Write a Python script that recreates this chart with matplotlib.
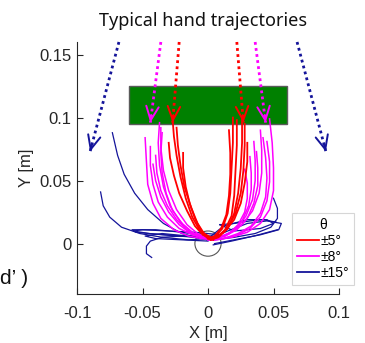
import matplotlib
matplotlib.use("Agg")
import matplotlib.pyplot as plt
from matplotlib.patches import Rectangle, Circle
from matplotlib.lines import Line2D
import numpy as np

plt.rcParams['font.family'] = ['Liberation Sans', 'DejaVu Sans']

# ---------------- data ----------------
title = "Typical hand trajectories"
x_ticks = [-0.1, -0.05, 0, 0.05, 0.1]
x_ticklabels = ["-0.1", "-0.05", "0", "0.05", "0.1"]
y_ticks = [0, 0.05, 0.1, 0.15]
y_ticklabels = ["0", "0.05", "0.1", "0.15"]
legend_labels = ["\u00b15\u00b0", "\u00b18\u00b0", "\u00b115\u00b0"]
legend_title = "\u03b8"

# target bar (x0, y0, width, height)
target_bar = [-0.06, 0.095, 0.12, 0.03]
start_radius = 0.01

# direction arrows
arrow_x0 = [-0.068, -0.036, -0.022, 0.022, 0.036, 0.068]
arrow_y0 = [0.16, 0.16, 0.16, 0.16, 0.16, 0.16]
arrow_x1 = [-0.090, -0.044, -0.027, 0.027, 0.044, 0.090]
arrow_y1 = [0.073, 0.096, 0.096, 0.096, 0.096, 0.073]
arrow_group = [2, 1, 0, 0, 1, 2]

# trajectories (+-5 deg)
red_x = [
    [-0.027, -0.026, -0.024, -0.021, -0.017, -0.012, -0.006, 0.000, 0.004],
    [-0.030, -0.029, -0.026, -0.022, -0.016, -0.010, -0.004, 0.002],
    [-0.019, -0.019, -0.017, -0.014, -0.010, -0.005, 0.000, 0.004],
    [-0.024, -0.023, -0.021, -0.018, -0.013, -0.008, -0.003, 0.002],
    [0.019, 0.019, 0.018, 0.017, 0.015, 0.011, 0.006, 0.001],
    [0.022, 0.022, 0.021, 0.020, 0.018, 0.013, 0.007, 0.002],
    [0.026, 0.026, 0.025, 0.023, 0.020, 0.015, 0.008, 0.002],
    [0.028, 0.028, 0.027, 0.025, 0.021, 0.015, 0.008, 0.003],
    [0.016, 0.017, 0.017, 0.016, 0.014, 0.010, 0.005, 0.000],
    [0.030, 0.030, 0.028, 0.025, 0.020, 0.013, 0.006, 0.001],
]
red_y = [
    [0.098, 0.085, 0.070, 0.053, 0.036, 0.021, 0.010, 0.004, 0.003],
    [0.080, 0.068, 0.054, 0.040, 0.026, 0.014, 0.007, 0.004],
    [0.072, 0.060, 0.045, 0.032, 0.020, 0.010, 0.005, 0.004],
    [0.092, 0.078, 0.062, 0.045, 0.029, 0.016, 0.008, 0.005],
    [0.100, 0.080, 0.060, 0.040, 0.024, 0.012, 0.006, 0.004],
    [0.098, 0.078, 0.058, 0.038, 0.022, 0.011, 0.005, 0.003],
    [0.100, 0.080, 0.060, 0.040, 0.024, 0.012, 0.005, 0.003],
    [0.095, 0.078, 0.058, 0.040, 0.024, 0.012, 0.006, 0.004],
    [0.090, 0.072, 0.055, 0.038, 0.023, 0.012, 0.006, 0.004],
    [0.080, 0.065, 0.048, 0.032, 0.019, 0.010, 0.005, 0.004],
]

# trajectories (+-8 deg)
mag_x = [
    [-0.048, -0.047, -0.046, -0.042, -0.036, -0.026, -0.015, -0.005, 0.004],
    [-0.037, -0.038, -0.037, -0.034, -0.029, -0.021, -0.012, -0.004, 0.003],
    [-0.035, -0.036, -0.035, -0.032, -0.027, -0.019, -0.011, -0.003, 0.004],
    [-0.042, -0.040, -0.036, -0.030, -0.022, -0.013, -0.005, 0.003],
    [-0.044, -0.044, -0.042, -0.038, -0.031, -0.022, -0.012, -0.003, 0.004],
    [-0.036, -0.036, -0.034, -0.030, -0.024, -0.016, -0.008, 0.000, 0.005],
    [-0.040, -0.039, -0.036, -0.031, -0.024, -0.016, -0.008, 0.001],
    [0.047, 0.049, 0.050, 0.050, 0.047, 0.040, 0.030, 0.018, 0.007, 0.000],
    [0.042, 0.044, 0.045, 0.044, 0.040, 0.033, 0.023, 0.012, 0.003],
    [0.045, 0.047, 0.047, 0.045, 0.040, 0.032, 0.021, 0.010, 0.002],
    [0.035, 0.036, 0.036, 0.034, 0.029, 0.022, 0.013, 0.005, 0.000],
    [0.037, 0.038, 0.038, 0.035, 0.030, 0.022, 0.013, 0.005, 0.000],
    [0.028, 0.030, 0.030, 0.028, 0.023, 0.016, 0.008, 0.001],
    [0.032, 0.033, 0.033, 0.031, 0.026, 0.019, 0.011, 0.003],
    [0.040, 0.041, 0.041, 0.039, 0.034, 0.026, 0.016, 0.006, 0.000],
]
mag_y = [
    [0.084, 0.065, 0.047, 0.032, 0.020, 0.011, 0.006, 0.004, 0.003],
    [0.096, 0.080, 0.062, 0.045, 0.030, 0.017, 0.009, 0.005, 0.004],
    [0.088, 0.072, 0.056, 0.040, 0.026, 0.015, 0.008, 0.005, 0.004],
    [0.063, 0.050, 0.037, 0.025, 0.015, 0.008, 0.005, 0.004],
    [0.077, 0.062, 0.047, 0.033, 0.021, 0.012, 0.007, 0.004, 0.003],
    [0.092, 0.076, 0.058, 0.042, 0.027, 0.015, 0.008, 0.004, 0.003],
    [0.070, 0.056, 0.042, 0.030, 0.019, 0.011, 0.006, 0.004],
    [0.099, 0.080, 0.060, 0.042, 0.027, 0.016, 0.009, 0.005, 0.003, 0.003],
    [0.084, 0.068, 0.052, 0.037, 0.024, 0.014, 0.008, 0.004, 0.003],
    [0.081, 0.065, 0.049, 0.034, 0.021, 0.012, 0.006, 0.004, 0.003],
    [0.081, 0.066, 0.050, 0.035, 0.022, 0.012, 0.006, 0.004, 0.003],
    [0.073, 0.060, 0.046, 0.032, 0.020, 0.011, 0.006, 0.004, 0.004],
    [0.059, 0.048, 0.036, 0.025, 0.015, 0.008, 0.005, 0.004],
    [0.069, 0.056, 0.043, 0.030, 0.018, 0.010, 0.006, 0.004],
    [0.090, 0.074, 0.056, 0.040, 0.026, 0.015, 0.008, 0.004, 0.003],
]

# trajectories (+-15 deg)
blue_x = [
    [-0.073, -0.069, -0.064, -0.056, -0.046, -0.034, -0.020, -0.005, 0.005],
    [-0.082, -0.080, -0.075, -0.066, -0.052, -0.035, -0.015, 0.000],
    [-0.043, -0.047, -0.047, -0.044, -0.035, -0.020, -0.005, 0.005],
    [0.050, 0.053, 0.053, 0.048, 0.036, 0.020, 0.005],
    [0.000, 0.015, 0.030, 0.045, 0.056, 0.054, 0.040, 0.020, 0.005],
    [0.000, 0.012, 0.030, 0.045, 0.050, 0.040, 0.020, 0.009],
    [0.004, 0.018, 0.035, 0.053],
    [0.005, -0.020, -0.040, -0.058, -0.055, -0.035, -0.010, 0.005],
    [0.000, -0.015, -0.035, -0.048, -0.040, -0.020, 0.000],
    [0.009, -0.010, -0.030, -0.050, -0.057, -0.045, -0.020, 0.004],
    [0.009, 0.020, 0.032, 0.042, 0.052],
]
blue_y = [
    [0.088, 0.070, 0.055, 0.040, 0.027, 0.016, 0.008, 0.004, 0.004],
    [0.041, 0.030, 0.021, 0.013, 0.008, 0.005, 0.003, 0.004],
    [-0.011, -0.008, -0.002, 0.002, 0.005, 0.006, 0.005, 0.004],
    [0.036, 0.028, 0.020, 0.013, 0.008, 0.005, 0.003],
    [0.003, 0.010, 0.016, 0.018, 0.016, 0.011, 0.007, 0.003, 0.000],
    [0.004, 0.014, 0.019, 0.019, 0.016, 0.012, 0.010, 0.015],
    [-0.001, 0.002, 0.006, 0.011],
    [0.005, 0.009, 0.011, 0.011, 0.009, 0.007, 0.005, 0.004],
    [0.003, 0.006, 0.008, 0.006, 0.004, 0.003, 0.002],
    [0.007, 0.009, 0.010, 0.011, 0.010, 0.008, 0.006, 0.006],
    [0.015, 0.016, 0.018, 0.019, 0.017],
]

colors = ["#ff0000", "#ff00ff", "#14149a"]
# --------------------------------------

fig = plt.figure(figsize=(3.65, 3.43), dpi=100)
ax = fig.add_axes([77 / 365, 1 - 294 / 343, 262 / 365, 252 / 343])

ax.add_patch(Rectangle((target_bar[0], target_bar[1]), target_bar[2], target_bar[3],
                       facecolor="#008000", edgecolor="#5a5a5a", lw=1.0, zorder=1))
ax.add_patch(Circle((0, 0), start_radius, facecolor="none", edgecolor="#555555",
                    lw=0.8, zorder=2))

for xs, ys in zip(blue_x, blue_y):
    ax.plot(xs, ys, color=colors[2], lw=0.9, zorder=3)
for xs, ys in zip(mag_x, mag_y):
    ax.plot(xs, ys, color=colors[1], lw=1.1, zorder=4)
for xs, ys in zip(red_x, red_y):
    ax.plot(xs, ys, color=colors[0], lw=1.3, zorder=5)

for x0, y0, x1, y1, g in zip(arrow_x0, arrow_y0, arrow_x1, arrow_y1, arrow_group):
    ax.plot([x0, x1], [y0, y1], color=colors[g], lw=2.0, ls=(0, (1, 1.2)), zorder=6,
            clip_on=False)
    d = np.hypot(x1 - x0, y1 - y0)
    ux, uy = (x1 - x0) / d, (y1 - y0) / d
    ax.annotate("", xy=(x1, y1), xytext=(x1 - ux * 0.006, y1 - uy * 0.006),
                arrowprops=dict(arrowstyle="->,head_length=1.0,head_width=0.45",
                                color=colors[g], lw=1.4, shrinkA=0, shrinkB=0),
                zorder=7)

ax.set_xlim(-0.1, 0.1)
ax.set_ylim(-0.04, 0.16)
ax.set_xticks(x_ticks)
ax.set_xticklabels(x_ticklabels)
ax.set_yticks(y_ticks)
ax.set_yticklabels(y_ticklabels)
for s in ["top", "right"]:
    ax.spines[s].set_visible(False)
for s in ["left", "bottom"]:
    ax.spines[s].set_color("#262626")
    ax.spines[s].set_linewidth(0.8)
ax.tick_params(axis="both", direction="in", length=4, width=0.8, colors="#262626",
               labelsize=12)
ax.tick_params(axis="x", pad=9)
ax.tick_params(axis="y", pad=4)

ax.set_xlabel("X [m]", fontsize=12, color="#262626", labelpad=3)
ax.set_ylabel("Y [m]", fontsize=12, color="#262626", labelpad=4)

handles = [Line2D([0], [0], color=c, lw=1.3) for c in colors]
leg = ax.legend(handles, legend_labels, title=legend_title, loc="upper left",
                bbox_to_anchor=(0.793, 0.35), fontsize=10, title_fontsize=10,
                handlelength=1.6, handletextpad=0.1, labelspacing=0.15,
                borderpad=0.35, frameon=True, fancybox=False)
leg.get_frame().set_edgecolor("#cccccc")
leg.get_frame().set_linewidth(0.8)

fig.text(203 / 365, 1 - 21 / 343, title, ha="center", va="center", fontsize=13,
         family=["Noto Sans", "DejaVu Sans"], color="#111111")
fig.text(0.0, 1 - 278 / 343, "d\u2019 )", ha="left", va="center", fontsize=15,
         color="#111111")

fig.savefig("out.png", dpi=100)
